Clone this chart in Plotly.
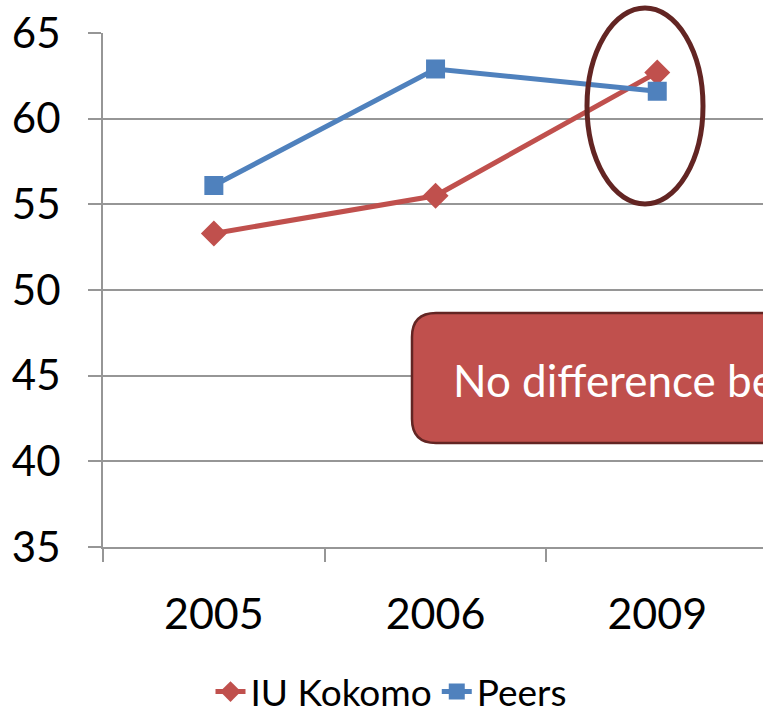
import plotly.graph_objects as go

# ---- data ----
years = ["2005", "2006", "2009"]
iu_kokomo = [53.3, 55.5, 62.7]
peers = [56.1, 62.9, 61.6]
y_ticks = [35, 40, 45, 50, 55, 60, 65]
callout_text = "No difference between IU Kokomo and Peers"

# ---- geometry (pixels) ----
W, H = 763, 715
L, T, B, R = 103, 33, 168, 0
plot_w = W - L - R
plot_h = H - T - B
cat_w = 221.7
x_max = -0.5 + plot_w / cat_w

RED = "#C0504D"
BLUE = "#4F81BD"
DARK = "#632523"
GRID = "#969696"
FONT = "Lato"


def px_x(p):
    return (p - L) / plot_w


def px_y(p):
    return (H - B - p) / plot_h


fig = go.Figure()
fig.add_trace(go.Scatter(
    x=years, y=iu_kokomo, name="IU Kokomo", mode="lines+markers",
    line=dict(color=RED, width=5),
    marker=dict(symbol="diamond", size=20, color=RED),
    cliponaxis=False,
))
fig.add_trace(go.Scatter(
    x=years, y=peers, name="Peers", mode="lines+markers",
    line=dict(color=BLUE, width=5),
    marker=dict(symbol="square", size=19, color=BLUE),
    cliponaxis=False,
))

# ellipse highlight around 2009
fig.add_shape(type="circle", xref="paper", yref="paper",
              x0=px_x(587), x1=px_x(703), y0=px_y(204), y1=px_y(8),
              line=dict(color=DARK, width=5), layer="above")

# rounded callout box (extends beyond right edge)
x0, x1, y0, y1, r = 412, 840, 313, 443, 24
pts = [
    ("M", [(x0 + r, y0)]),
    ("L", [(x1 - r, y0)]),
    ("Q", [(x1, y0), (x1, y0 + r)]),
    ("L", [(x1, y1 - r)]),
    ("Q", [(x1, y1), (x1 - r, y1)]),
    ("L", [(x0 + r, y1)]),
    ("Q", [(x0, y1), (x0, y1 - r)]),
    ("L", [(x0, y0 + r)]),
    ("Q", [(x0, y0), (x0 + r, y0)]),
]
path = ""
for cmd, ps in pts:
    path += cmd + " " + " ".join(f"{px_x(a):.5f},{px_y(b):.5f}" for a, b in ps) + " "
path += "Z"
fig.add_shape(type="path", xref="paper", yref="paper", path=path,
              fillcolor=RED, line=dict(color=DARK, width=2.5), layer="above")
fig.add_annotation(x=px_x(451), y=px_y(380), xref="paper", yref="paper",
                   text=callout_text, showarrow=False, xanchor="left",
                   yanchor="middle", font=dict(family=FONT, size=44, color="white"))

fig.update_layout(
    width=W, height=H,
    margin=dict(l=L, r=R, t=T, b=B, pad=0, autoexpand=False),
    paper_bgcolor="white", plot_bgcolor="white",
    font=dict(family=FONT, color="black"),
    showlegend=True,
    legend=dict(orientation="h", x=px_x(391), xanchor="center",
                y=px_y(692), yanchor="middle",
                font=dict(family=FONT, size=37, color="black"),
                bgcolor="rgba(0,0,0,0)"),
    xaxis=dict(
        type="category", range=[-0.5, x_max],
        showgrid=False, showline=True, linecolor=GRID, linewidth=2,
        ticks="outside", tickson="boundaries", ticklen=13, tickcolor=GRID,
        tickwidth=2, tickfont=dict(family=FONT, size=43, color="black"),
        ticklabelstandoff=28, zeroline=False,
    ),
    yaxis=dict(
        range=[35, 65], tickvals=y_ticks, showgrid=True, gridcolor=GRID,
        gridwidth=2, showline=True, linecolor=GRID, linewidth=2,
        ticks="outside", ticklen=13, tickcolor=GRID, tickwidth=2,
        tickfont=dict(family=FONT, size=42, color="black"),
        ticklabelstandoff=19, zeroline=False,
    ),
)

fig.write_html("out.html", config={"displayModeBar": False},
               post_script="document.body.style.margin='0px';document.body.style.overflow='hidden';")
